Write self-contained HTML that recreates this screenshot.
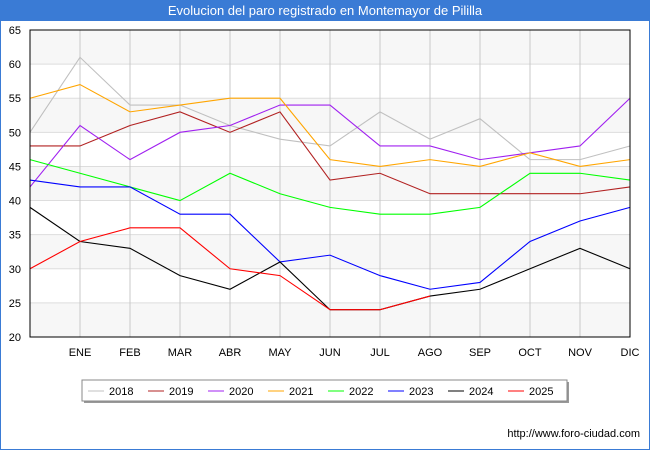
<!DOCTYPE html>
<html><head><meta charset="utf-8"><style>
body{margin:0;width:650px;height:450px;background:#fff;font-family:"Liberation Sans","DejaVu Sans",sans-serif;position:relative;overflow:hidden}
#title{position:absolute;left:0;top:0;width:650px;height:21px;background:#3a7bd5;color:#fff;font-size:13px;text-align:center;line-height:21px}
#frame{position:absolute;left:0;top:21px;width:648px;height:428px;border:1px solid #3a7bd5;border-top:none}
svg{position:absolute;left:0;top:0}
text{font-family:"Liberation Sans","DejaVu Sans",sans-serif;font-size:11px;fill:#000}
</style></head><body>
<div id="title">Evolucion del paro registrado en Montemayor de Pililla</div>
<div id="frame"></div>
<svg id="chart" width="650" height="450"></svg>
<script>
const months=["","ENE","FEB","MAR","ABR","MAY","JUN","JUL","AGO","SEP","OCT","NOV","DIC"];
const yTicks=[20,25,30,35,40,45,50,55,60,65];
const years=["2018","2019","2020","2021","2022","2023","2024","2025"];
const colors=["#c0c0c0","#b22222","#a020f0","#ffa500","#00ff00","#0000ff","#000000","#ff0000"];
const s2018=[50,61,54,54,51,49,48,53,49,52,46,46,48];
const s2019=[48,48,51,53,50,53,43,44,41,41,41,41,42];
const s2020=[42,51,46,50,51,54,54,48,48,46,47,48,55];
const s2021=[55,57,53,54,55,55,46,45,46,45,47,45,46];
const s2022=[46,44,42,40,44,41,39,38,38,39,44,44,43];
const s2023=[43,42,42,38,38,31,32,29,27,28,34,37,39];
const s2024=[39,34,33,29,27,31,24,24,26,27,30,33,30];
const s2025=[30,34,36,36,30,29,24,24,26];
const series=[s2018,s2019,s2020,s2021,s2022,s2023,s2024,s2025];
const L=30,R=630,T=30,B=337,ymin=20,ymax=65;
const x=i=>L+i*(R-L)/(months.length-1);
const y=v=>B-(v-ymin)*(B-T)/(ymax-ymin);
const svg=document.getElementById('chart');const NS="http://www.w3.org/2000/svg";
function mk(t,a){const e=document.createElementNS(NS,t);for(const k in a)e.setAttribute(k,a[k]);svg.appendChild(e);return e;}
for(let i=0;i<yTicks.length-1;i++){if(i%2===0){const r=mk('rect',{x:L,y:y(yTicks[i+1]),width:R-L,height:y(yTicks[i])-y(yTicks[i+1]),fill:'#f7f7f7'});

}}
yTicks.forEach(v=>{const l=mk('line',{x1:L,x2:R,y1:y(v),y2:y(v),stroke:'#ddd'});


const t=mk('text',{x:L-9,y:y(v)+4,'text-anchor':'end'});t.textContent=v;

});
months.forEach((m,i)=>{if(i===0)return;const l=mk('line',{x1:x(i),x2:x(i),y1:T,y2:B,stroke:'#c8c8c8'});


const t=mk('text',{x:x(i),y:B+19,'text-anchor':'middle'});t.textContent=m;

});
series.forEach((s,k)=>{const p=mk('polyline',{points:s.map((v,i)=>x(i)+','+y(v)).join(' '),fill:'none',stroke:colors[k],'stroke-width':1.1});

});
const fr=mk('rect',{x:L,y:T,width:R-L,height:B-T,fill:'none',stroke:'#000'});


const sh=mk('rect',{x:84,y:382,width:485,height:21,fill:'#999'});


const lb=mk('rect',{x:82,y:380,width:485,height:21,fill:'#fff',stroke:'#888'});


years.forEach((yr,k)=>{const lx=88+k*60;const l=mk('line',{x1:lx,x2:lx+16,y1:391,y2:391,stroke:colors[k]});


const t=mk('text',{x:lx+21,y:395});t.textContent=yr;

});
const u=mk('text',{x:640,y:437,'text-anchor':'end','font-size':'10'});u.textContent='http://www.foro-ciudad.com';


</script>
</body></html>
